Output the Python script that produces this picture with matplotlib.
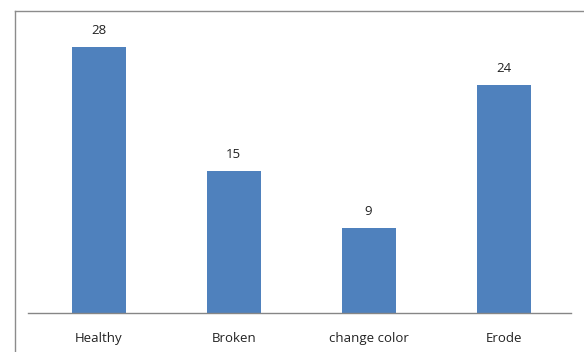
import matplotlib
matplotlib.use("Agg")
import matplotlib.pyplot as plt
from matplotlib.lines import Line2D

categories = ["Healthy", "Broken", "change color", "Erode"]
values = [28, 15, 9, 24]

plt.rcParams['font.family'] = ['Open Sans', 'DejaVu Sans']

W, H = 584, 352
fig = plt.figure(figsize=(W/100, H/100), dpi=100)
fig.patch.set_facecolor('white')

# outer chart border (left and top edges only visible)
bx, by = 14.5/W, 1 - 10.5/H
fig.add_artist(Line2D([bx, bx], [0, by], transform=fig.transFigure, color='#8c8c8c', linewidth=1.0))
fig.add_artist(Line2D([bx, 1], [by, by], transform=fig.transFigure, color='#8c8c8c', linewidth=1.0))

L, R = 28, 571
ax = fig.add_axes([L/W, (H-313)/H, (R-L)/W, (313-28)/H])
x = range(len(categories))
ax.bar(x, values, width=0.4, color='#4F81BD', zorder=2)
ax.set_xlim(-0.525, 3.5)
ax.set_ylim(0, 30)
for s in ['top', 'right', 'left']:
    ax.spines[s].set_visible(False)
ax.spines['bottom'].set_color('#868686')
ax.spines['bottom'].set_linewidth(1.0)
ax.set_yticks([])
ax.set_xticks(list(x))
ax.set_xticklabels(categories, fontsize=9.5, color='#222222')
ax.tick_params(axis='x', length=0, pad=14)
for i, v in enumerate(values):
    ax.annotate(str(v), (i, v), xytext=(0, 7), textcoords='offset points',
                ha='center', va='bottom', fontsize=9.5, color='#222222')

fig.savefig('out.png', dpi=100)
